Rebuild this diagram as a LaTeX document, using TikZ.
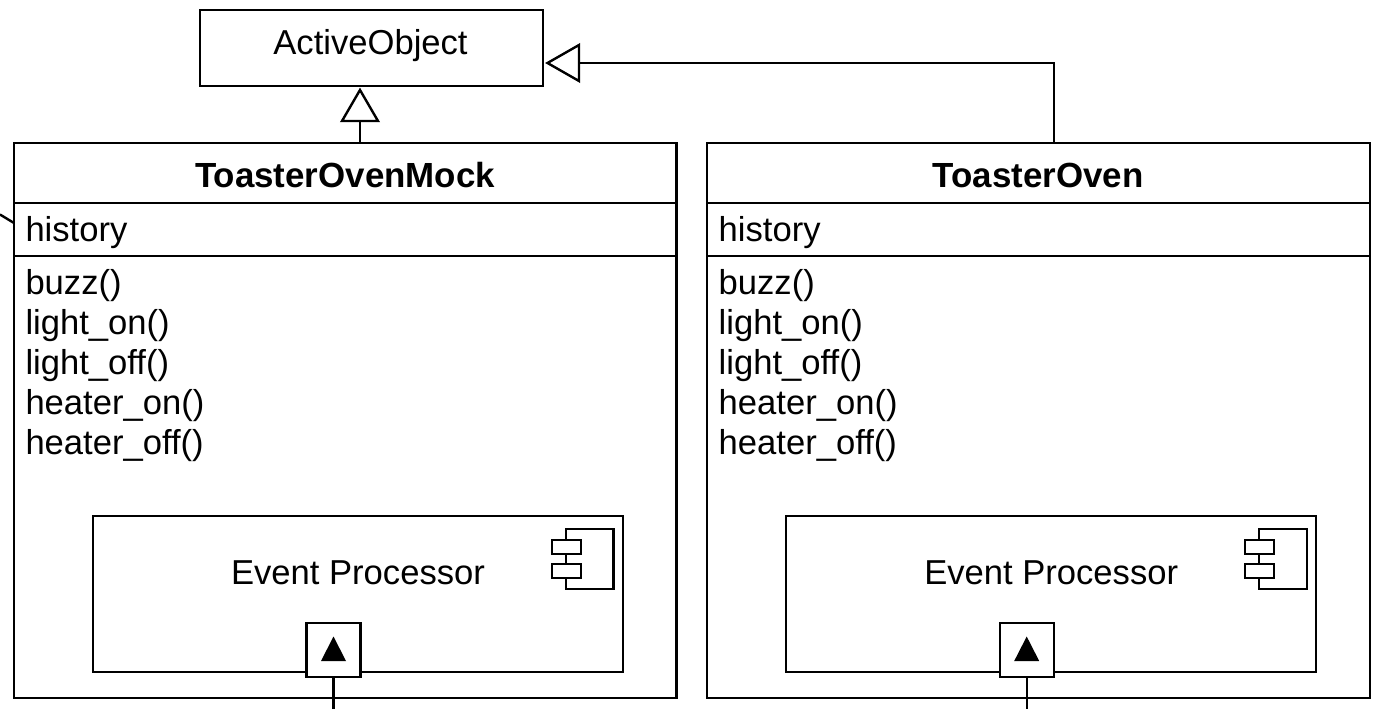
\documentclass[tikz,border=0pt]{standalone}
\usepackage{fontspec}
\setmainfont{Liberation Sans}
\tikzset{
  x=1pt,y=-1pt,
  lw/.style={line width=2.4pt,line cap=butt,line join=miter},
  umlbox/.style={draw,lw,fill=white,inner sep=0pt,outer sep=0pt,rectangle},
  label/.style={inner sep=0pt,outer sep=0pt,font=\fontsize{34.6}{40}\selectfont},
  title/.style={label,font=\fontsize{34.9}{40}\selectfont\bfseries,anchor=base},
  member/.style={label,anchor=base west},
  tri/.style={draw,lw,fill=white,line join=miter},
  conn/.style={draw,lw}
}
\newcommand{\umlclass}[3]{% prefix, left x, title
  \node[umlbox,anchor=north west,minimum width=662.5pt,minimum height=555pt] (#1) at (#2,143) {};
  \coordinate (#1top) at ($(#1.north west)+(0,60)$);
  \coordinate (#1mid) at ($(#1.north west)+(0,113)$);
  \draw[lw] (#1top) -- (#1top -| #1.east);
  \draw[lw] (#1mid) -- (#1mid -| #1.east);
  \node[title] (#1title) at ($(#2,187)+(331,0)$) {#3};
  \node[member] (#1hist) at ($(#2,241.5)+(11.5,0)$) {history};
  \node[member] (#1ma) at ($(#2,294.5)+(11.5,0)$) {buzz()};
  \node[member] (#1mb) at ($(#2,334.5)+(11.5,0)$) {light\_on()};
  \node[member] (#1mc) at ($(#2,374.5)+(11.5,0)$) {light\_off()};
  \node[member] (#1md) at ($(#2,414.5)+(11.5,0)$) {heater\_on()};
  \node[member] (#1me) at ($(#2,454.5)+(11.5,0)$) {heater\_off()};
  \node[umlbox,anchor=north west,minimum width=530pt,minimum height=156pt] (#1ep) at ($(#2,516)+(79,0)$) {};
  \node[label,anchor=base] (#1eptext) at ($(#2,584.5)+(344,0)$) {Event Processor};
  \node[umlbox,anchor=north west,minimum width=47.5pt,minimum height=60pt] (#1ica) at ($(#2,529)+(552,0)$) {};
  \node[umlbox,anchor=north west,minimum width=29pt,minimum height=14pt] (#1icb) at ($(#2,540)+(538,0)$) {};
  \node[umlbox,anchor=north west,minimum width=29pt,minimum height=14pt] (#1icc) at ($(#2,564)+(538,0)$) {};
  \node[umlbox,anchor=north west,minimum width=54pt,minimum height=54pt] (#1port) at ($(#2,623)+(292.5,0)$) {};
  \fill ($(#1port.center)+(0,-13.5)$) -- ($(#1port.center)+(12.5,11)$) -- ($(#1port.center)+(-12.5,11)$) -- cycle;
  \coordinate (#1free) at (#1port.south |- 0,709);
  \draw[lw] (#1port.south) -- (#1free);
}
\usetikzlibrary{calc}
\begin{document}
\begin{tikzpicture}
\useasboundingbox (0,0) rectangle (1373,709);
\fill[white] (0,0) rectangle (1373,709);
\node[umlbox,anchor=north west,minimum width=343pt,minimum height=76pt] (ao) at (200,10) {};
\node[label,anchor=base] (aotext) at (370.5,54.5) {ActiveObject};
\umlclass{m}{14}{ToasterOvenMock}
\umlclass{r}{707.2}{ToasterOven}
% inheritance: mock
\coordinate (mockapex) at (360,90);
\coordinate (mockbase) at (360,121);
\draw[conn] (m.north -| mockbase) -- (mockbase);
\draw[tri] (mockapex) -- (342,121) -- (378,121) -- cycle;
% inheritance: oven
\coordinate (ovenapex) at (547.5,63);
\coordinate (ovenbase) at (579,63);
\coordinate (ovenbend) at (1054,63);
\draw[conn] (r.north -| ovenbend) -- (ovenbend) -- (ovenbase);
\draw[tri] (ovenapex) -- (579,45) -- (579,81) -- cycle;
% stub at left
\coordinate (stub) at (0,214.5);
\coordinate (stubend) at (m.west |- 0,223);
\draw[conn] (stub) -- (stubend);
\end{tikzpicture}
\end{document}
